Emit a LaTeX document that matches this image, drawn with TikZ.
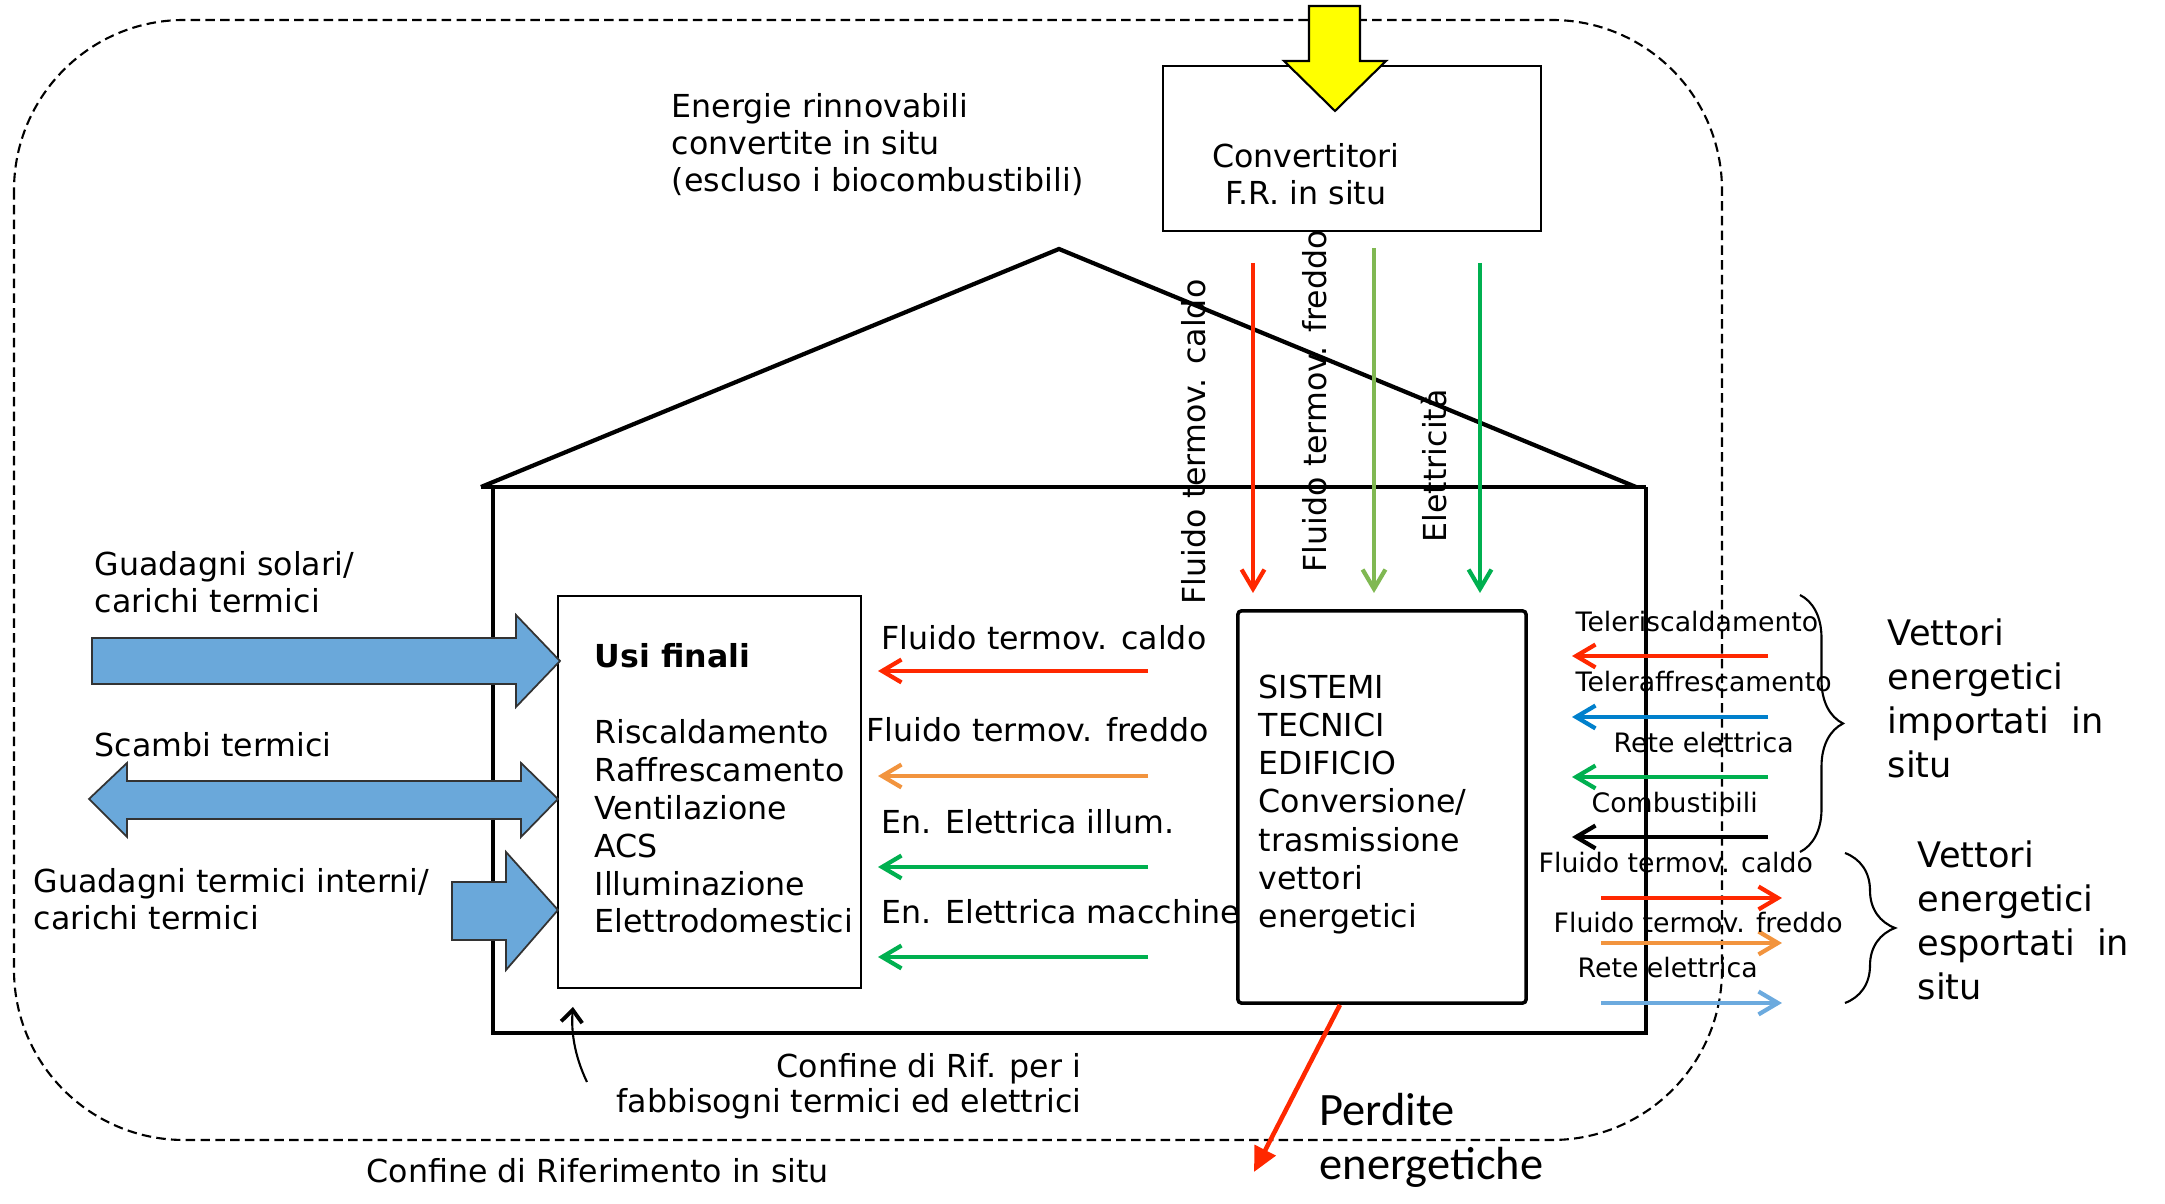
\documentclass[tikz,border=0pt]{standalone}
\usepackage{fontspec}
\setmainfont{DejaVu Sans}
\newfontfamily\carlito{Carlito}
\usetikzlibrary{arrows.meta,decorations.pathreplacing}
\definecolor{rosso}{RGB}{255,40,0}
\definecolor{arancio}{RGB}{242,148,62}
\definecolor{verde}{RGB}{0,176,80}
\definecolor{verdechiaro}{RGB}{128,184,82}
\definecolor{blu}{RGB}{0,128,204}
\definecolor{azzurro}{RGB}{108,170,222}
\definecolor{frecciablu}{RGB}{106,168,218}
\definecolor{giallo}{RGB}{255,255,0}

\begin{document}
\begin{tikzpicture}[x=0.01cm,y=-0.01cm,
  testo/.style={inner sep=0pt,font=\fontsize{9}{10.6}\selectfont,align=left,anchor=base west},
  piccolo/.style={inner sep=0pt,font=\fontsize{7.6}{9}\selectfont,anchor=base west},
  grande/.style={inner sep=0pt,font=\fontsize{10}{12.6}\selectfont,align=left,anchor=base west},
  flusso/.style={line width=1.2pt,-{Straight Barb[length=5.5pt,width=6.5pt]}},
  grossa/.style={draw=black!80,line width=0.5pt,fill=frecciablu}]

\useasboundingbox (0,0) rectangle (2165,1204);

% confine di riferimento in situ
\draw [dash pattern=on 2.7pt off 1.5pt, line width=0.6pt, rounded corners=1.7cm] (14,20) rectangle (1722,1140);

% edificio
\draw [line width=1.2pt] (481,487)--(1059,249)--(1636,487);
\draw [line width=1.2pt] (481,487)--(1646,487);
\draw [line width=1.2pt] (493,487)--(493,1033)--(1646,1033)--(1646,487);

% scatole
\node [draw, line width=0.65pt, minimum width=3.78cm, minimum height=1.65cm] (conv) at (1352,148.5) {};
\node [draw, line width=0.6pt, fill=white, minimum width=3.03cm, minimum height=3.92cm] (usi) at (709.5,792) {};
\node [draw, line width=1pt, rounded corners=1pt, minimum width=2.88cm, minimum height=3.92cm] (sistemi) at (1382,807) {};

\draw [fill=giallo, line width=0.6pt] (1309,6)--(1360,6)--(1360,61)--(1386,61)--(1335,111)--(1284,61)--(1309,61)--cycle;

% (base = ultima riga)
\node [testo] (energie) at (671,192) {Energie rinnovabili\\convertite in situ\\(escluso i biocombustibili)};
\node [testo, align=center, anchor=base] (convtxt) at (1306,205) {Convertitori\\F.R. in situ};

% frecce dai convertitori
\node [testo, rotate=90] (vcaldo) at (1205,605) {Fluido termov. caldo};
\node [testo, rotate=90] (vfreddo) at (1326,573) {Fluido termov. freddo};
\node [testo, rotate=90] (velettr) at (1446,543) {Elettricità};
\foreach \x/\y/\c/\n in {1253/263/rosso/a,1374/248/verdechiaro/b,1480/263/verde/c} {
  \coordinate (fr\n) at (\x,\y);
  \coordinate (to\n) at (\x,593);
  \draw [flusso,\c] (fr\n)--(to\n);
}

% apporti esterni
\draw [grossa] (92,638)--(516,638)--(516,615)--(560,661)--(516,707)--(516,684)--(92,684)--cycle;
\draw [grossa] (89,799)--(127,763)--(127,781)--(521,781)--(521,763)--(558,799)--(521,837)--(521,819)--(127,819)--(127,837)--cycle;
\draw [grossa] (452,882)--(506,882)--(506,852)--(558,910)--(506,970)--(506,940)--(452,940)--cycle;
\node [testo] (solari) at (94,613) {Guadagni solari/\\carichi termici};
\node [testo] (scambi) at (94,757) {Scambi termici};
\node [testo] (interni) at (33,930) {Guadagni termici interni/\\carichi termici};

\node [testo, font=\fontsize{9}{10.8}\selectfont] (usitxt) at (594,933) {\textbf{Usi finali}\\[10.8pt]Riscaldamento\\Raffrescamento\\Ventilazione\\ACS\\Illuminazione\\Elettrodomestici};
\node [testo, font=\fontsize{9}{10.9}\selectfont] (sistxt) at (1258,928) {SISTEMI\\TECNICI\\EDIFICIO\\Conversione/\\trasmissione\\vettori\\energetici};

% dai sistemi agli usi finali
\foreach \y/\c/\n in {671/rosso/a,776/arancio/b,867/verde/c,957/verde/d} {
  \coordinate (si\n) at (1148,\y);
  \coordinate (us\n) at (878,\y);
  \draw [flusso,\c] (si\n)--(us\n);
}
\node [testo] (lcaldo) at (881,650) {Fluido termov. caldo};
\node [testo] (lfreddo) at (866,742) {Fluido termov. freddo};
\node [testo] (lillum) at (881,834) {En. Elettrica illum.};
\node [testo] (lmacch) at (881,924) {En. Elettrica macchine};

% vettori importati
\foreach \y/\c/\n in {656/rosso/a,717/blu/b,777/verde/c,837/black/d} {
  \coordinate (ie\n) at (1768,\y);
  \coordinate (ii\n) at (1572,\y);
  \draw [flusso,\c] (ie\n)--(ii\n);
}
\node [piccolo] (teleris) at (1575,632) {Teleriscaldamento};
\node [piccolo] (teleraf) at (1575,692) {Teleraffrescamento};
\node [piccolo] (rete1) at (1613,753) {Rete elettrica};
\node [piccolo] (combus) at (1591,813) {Combustibili};

% vettori esportati
\foreach \y/\c/\n in {898/rosso/a,943/arancio/b,1003/azzurro/c} {
  \coordinate (ei\n) at (1601,\y);
  \coordinate (ee\n) at (1782,\y);
  \draw [flusso,\c] (ei\n)--(ee\n);
}
\node [piccolo] (ecaldo) at (1538,873) {Fluido termov. caldo};
\node [piccolo] (efreddo) at (1553,933) {Fluido termov. freddo};
\node [piccolo] (rete2) at (1577,978) {Rete elettrica};

\draw [line width=0.6pt, decorate, decoration={brace, amplitude=0.43cm}] (1800,595)--(1800,852);
\draw [line width=0.6pt, decorate, decoration={brace, amplitude=0.5cm}] (1845,853)--(1845,1003);
\node [grande] (importati) at (1887,778) {Vettori\\energetici\\importati\ \ in\\situ};
\node [grande] (esportati) at (1917,1000) {Vettori\\energetici\\esportati\ \ in\\situ};

% perdite
\coordinate (fuori) at (1254,1172);
\draw [rosso, line width=1.3pt, -{Triangle[length=7pt,width=6.5pt]}] (sistemi.258.5)--(fuori);
\node [inner sep=0pt, anchor=base west, align=left, font=\carlito\fontsize{13.2}{15.6}\selectfont] (perdite) at (1319,1180) {Perdite\\energetiche};

% didascalie confini
\node [testo, align=right, anchor=base east, font=\fontsize{9}{10.2}\selectfont] (confrif) at (1082,1113) {Confine di Rif. per i\\fabbisogni termici ed elettrici};
\coordinate (coda) at (587,1082);
\coordinate (punta) at (573,1007);
\draw [line width=0.6pt, -{Straight Barb[length=3.5pt,width=6pt,line width=1.1pt]}] (coda) .. controls (574,1055) and (571,1030) .. (punta);
\node [testo] (insitu) at (366,1183) {Confine di Riferimento in situ};

\end{tikzpicture}
\end{document}
